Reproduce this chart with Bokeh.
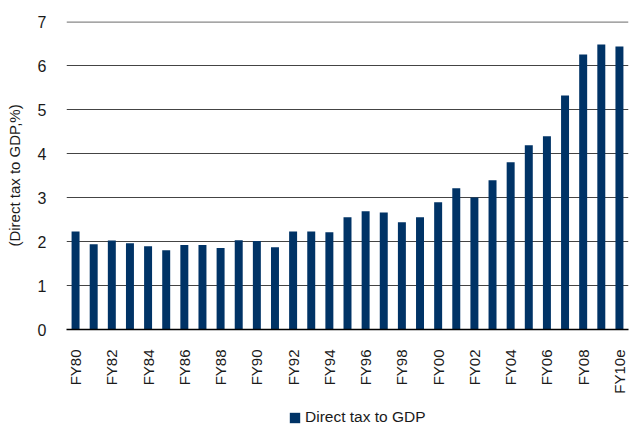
import math
from bokeh.plotting import figure
from bokeh.layouts import column
from bokeh.models import ColumnDataSource, FixedTicker, Legend, LegendItem, Span
from bokeh.embed import file_html
from bokeh.resources import INLINE

years = ["FY80", "FY81", "FY82", "FY83", "FY84", "FY85", "FY86", "FY87", "FY88", "FY89",
         "FY90", "FY91", "FY92", "FY93", "FY94", "FY95", "FY96", "FY97", "FY98", "FY99",
         "FY00", "FY01", "FY02", "FY03", "FY04", "FY05", "FY06", "FY07", "FY08", "FY09", "FY10e"]
direct_tax_gdp = [2.23, 1.94, 2.02, 1.96, 1.89, 1.80, 1.92, 1.92, 1.85, 2.03,
                  2.01, 1.87, 2.23, 2.23, 2.21, 2.55, 2.69, 2.66, 2.44, 2.55,
                  2.89, 3.21, 3.00, 3.39, 3.80, 4.19, 4.39, 5.32, 6.25, 6.48, 6.43]
y_ticks = [0, 1, 2, 3, 4, 5, 6, 7]
series_name = "Direct tax to GDP"
y_title = "(Direct tax to GDP,%)"

FONT = "Liberation Sans"
BAR = "#003366"
TXT = "#1a1a1a"

idx = list(range(len(years)))
src = ColumnDataSource(dict(x=idx, top=direct_tax_gdp, label=years))

p = figure(width=630, height=400, output_backend="svg", toolbar_location=None,
           x_range=(-0.5, len(years) - 0.5), y_range=(0, 7),
           min_border_left=66, min_border_right=2, min_border_top=21, min_border_bottom=71)
p.outline_line_color = None
p.background_fill_color = "white"
p.border_fill_color = "white"

p.xgrid.grid_line_color = None
p.ygrid.ticker = FixedTicker(ticks=y_ticks[1:-1])
p.ygrid.grid_line_color = "#444444"
p.ygrid.grid_line_width = 1
p.ygrid.level = "underlay"

r = p.vbar(x="x", top="top", bottom=0, width=0.44, source=src, fill_color=BAR, line_color=None)

top_line = Span(location=y_ticks[-1], dimension="width", line_color="#888888", line_width=2.5)
p.add_layout(top_line)

p.yaxis.ticker = FixedTicker(ticks=y_ticks)
p.yaxis.axis_line_color = None
p.yaxis.major_tick_line_color = None
p.yaxis.minor_tick_line_color = None
p.yaxis.major_label_text_font = FONT
p.yaxis.major_label_text_font_size = "16px"
p.yaxis.major_label_text_color = TXT
p.yaxis.major_label_standoff = 14
p.yaxis.axis_label = y_title
p.yaxis.axis_label_text_font = FONT
p.yaxis.axis_label_text_font_size = "15px"
p.yaxis.axis_label_text_font_style = "normal"
p.yaxis.axis_label_text_color = TXT
p.yaxis.axis_label_standoff = 12

p.xaxis.ticker = FixedTicker(ticks=idx[::2])
p.xaxis.major_label_overrides = {i: years[i] for i in idx}
p.xaxis.major_label_orientation = math.pi / 2
p.xaxis.axis_line_color = "black"
p.xaxis.axis_line_width = 1.5
p.xaxis.major_tick_line_color = None
p.xaxis.minor_tick_line_color = None
p.xaxis.major_label_text_font = FONT
p.xaxis.major_label_text_font_size = "15px"
p.xaxis.major_label_text_color = TXT
p.xaxis.major_label_standoff = 14

# legend strip below the chart (its frame is aligned with the chart's frame)
q = figure(width=630, height=28, output_backend="svg", toolbar_location=None,
           x_range=(0, 1), y_range=(0, 1),
           min_border_left=66, min_border_right=2, min_border_top=0, min_border_bottom=0)
q.axis.visible = False
q.grid.visible = False
q.outline_line_color = None
q.border_fill_color = "white"
# zero-height stand-in bar, only so that the legend can draw its swatch
q_r = q.vbar(x=[0.5], top=[0], bottom=0, width=0.44, fill_color=BAR, line_color=None)
legend = Legend(items=[LegendItem(label=series_name, renderers=[q_r])],
                orientation="horizontal", location=(222, 2),
                label_text_font=FONT, label_text_font_size="15.5px", label_text_color=TXT,
                glyph_width=13, glyph_height=13, label_height=14, border_line_color=None,
                background_fill_alpha=0, padding=0, margin=0, label_standoff=4)
q.add_layout(legend)

layout = column(p, q, spacing=0)
open("out.html", "w").write(file_html(layout, INLINE))
